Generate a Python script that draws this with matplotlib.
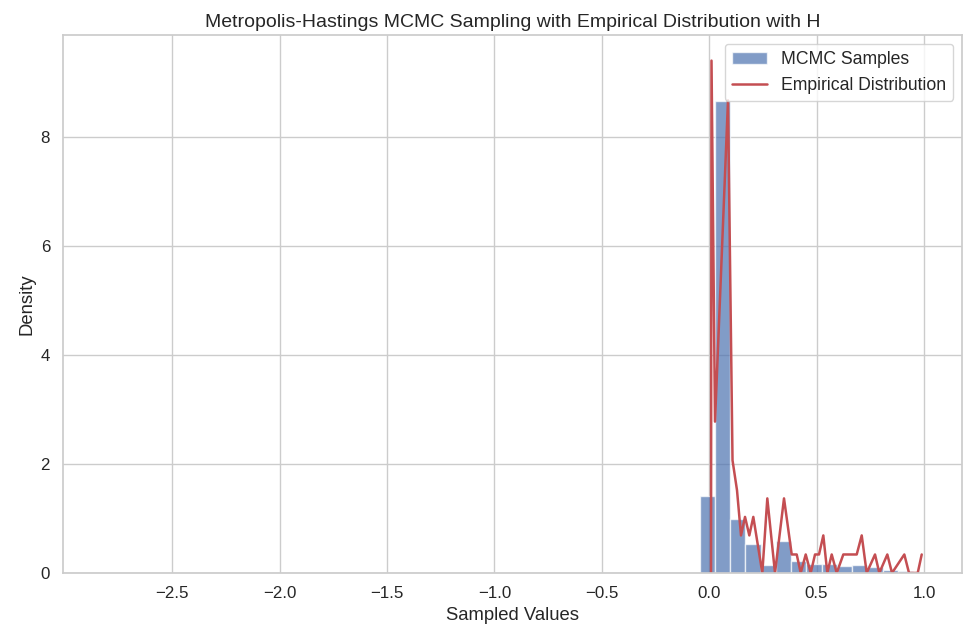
import numpy as np
import matplotlib
matplotlib.use("Agg")
import matplotlib.pyplot as plt
import seaborn as sns

sns.set_theme(style="whitegrid")
plt.rcParams['font.family'] = ['Liberation Sans', 'DejaVu Sans']

# histogram of the MCMC chain (density), bins of equal width
bin_start = -0.045
bin_width = 0.071
hist_density = [1.41, 8.66, 1.00, 0.53, 0.15, 0.59, 0.22, 0.16, 0.17,
                0.13, 0.15, 0.11, 0.06, 0.03]

# empirical distribution curve
emp_x = [0.0084, 0.0107, 0.0270, 0.0875, 0.1085, 0.1294, 0.1480, 0.1667,
         0.1867, 0.2053, 0.2472, 0.2705, 0.3063, 0.3482, 0.3841, 0.4074,
         0.4260, 0.4493, 0.4725, 0.4926, 0.5112, 0.5312, 0.5498, 0.5703,
         0.5936, 0.6243, 0.6867, 0.7100, 0.7332, 0.7719, 0.7919, 0.8292,
         0.8510, 0.9083, 0.9302, 0.9707, 0.9893]
emp_y = [0.0, 9.41, 2.78, 8.68, 2.07, 1.52, 0.69, 1.03,
         0.69, 1.03, 0.0, 1.37, 0.0, 1.37, 0.34, 0.34,
         0.0, 0.34, 0.0, 0.34, 0.34, 0.69, 0.0, 0.34,
         0.0, 0.34, 0.34, 0.69, 0.0, 0.34, 0.0, 0.34,
         0.0, 0.34, 0.0, 0.0, 0.34]

fig = plt.figure(figsize=(9.66, 6.3), dpi=100)
ax = fig.add_axes([0.0655, 0.0905, 0.9304, 0.8539])

edges = bin_start + bin_width * np.arange(len(hist_density))
bars = ax.bar(edges, hist_density, width=bin_width, align='edge', alpha=0.7,
              color='b', label='MCMC Samples')
line, = ax.plot(emp_x, emp_y, color='r', lw=1.8, label='Empirical Distribution')

ax.set_xlim(-3.007, 1.177)
ax.set_ylim(0, 9.88)
ax.set_xticks([-2.5, -2.0, -1.5, -1.0, -0.5, 0.0, 0.5, 1.0])
ax.set_yticks([0, 2, 4, 6, 8])
ax.tick_params(labelsize=12.2)

ax.set_title('Metropolis-Hastings MCMC Sampling with Empirical Distribution with H',
             fontsize=14)
ax.set_xlabel('Sampled Values', fontsize=13.3)
ax.set_ylabel('Density', fontsize=13.3)
ax.legend(handles=[bars, line], loc='upper right', fontsize=12.7)

fig.savefig('out.png', dpi=100)
